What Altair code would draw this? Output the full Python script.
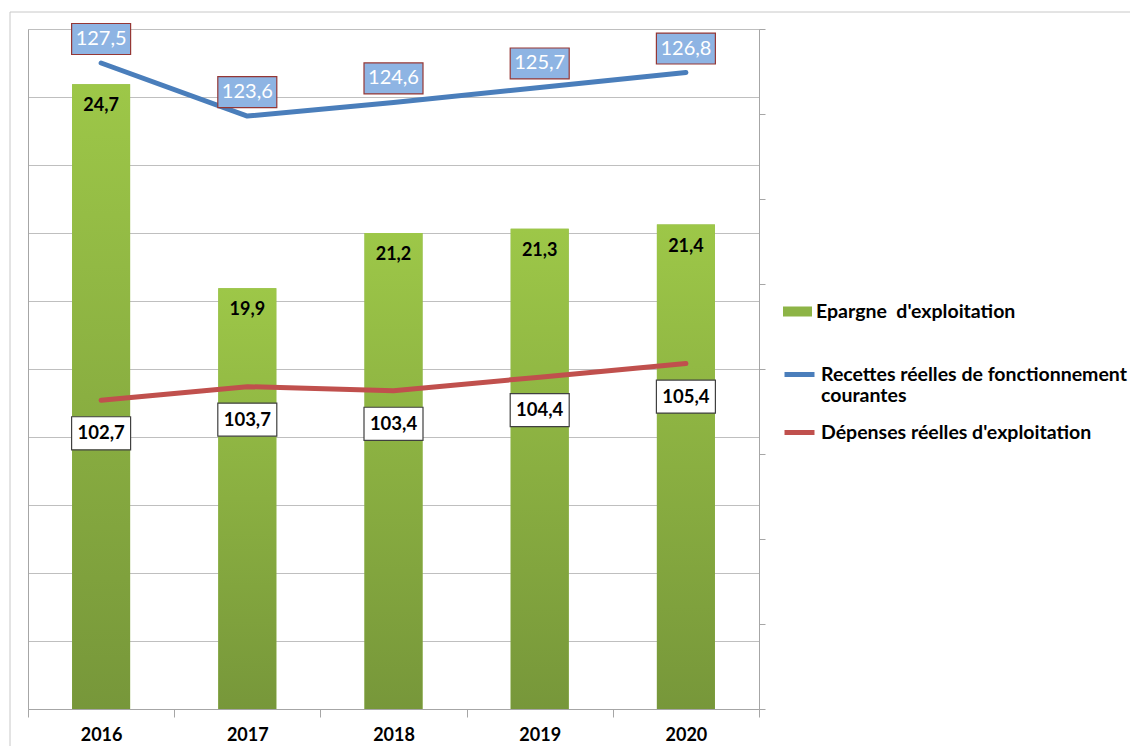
import altair as alt
import pandas as pd

# ---- data ----
years = ["2016", "2017", "2018", "2019", "2020"]
epargne = [24.7, 19.9, 21.2, 21.3, 21.4]
recettes = [127.5, 123.6, 124.6, 125.7, 126.8]
depenses = [102.7, 103.7, 103.4, 104.4, 105.4]

s_ep = "Epargne\u00a0 d'exploitation"
s_rec = "Recettes réelles de fonctionnement courantes"
s_dep = "Dépenses réelles d'exploitation"

left_ticks = [10, 11.6, 13.2, 14.8, 16.4, 18, 19.6, 21.2, 22.8, 24.4, 26]
right_ticks = [80, 86.25, 92.5, 98.75, 105, 111.25, 117.5, 123.75, 130]

bars_df = pd.DataFrame({"year": years, "value": epargne, "series": s_ep})
lines_df = pd.DataFrame({
    "year": years + years,
    "value": recettes + depenses,
    "series": [s_rec] * len(years) + [s_dep] * len(years),
})

W, H = 731, 680
GRID = "#BFBFBF"
AX = "#A6A6A6"
FONT = "Lato"
LAB = "replace(format(datum.value, '.1f'), '.', ',')"

x_enc = alt.X(
    "year:N",
    scale=alt.Scale(paddingInner=0, paddingOuter=0),
    axis=alt.Axis(
        title=None, labelAngle=0, tickBand="extent", tickSize=8, tickColor=AX,
        domainColor=AX, labelFont=FONT, labelFontSize=18, labelFontWeight="bold",
        labelColor="black", labelPadding=9, grid=False,
    ),
)

yL = alt.Y(
    "value:Q",
    scale=alt.Scale(domain=[10, 26], nice=False, zero=False),
    axis=alt.Axis(
        title=None, labels=False, ticks=False, values=left_ticks, grid=True,
        gridColor=GRID, gridWidth=1, domain=True, domainColor=AX,
    ),
)

yR = alt.Y(
    "value:Q",
    scale=alt.Scale(domain=[80, 130], nice=False, zero=False),
    axis=alt.Axis(
        title=None, orient="right", labels=False, ticks=True, tickSize=6,
        tickColor=AX, values=right_ticks, grid=False, domain=True, domainColor=AX,
    ),
)

frame = alt.Chart(pd.DataFrame({"a": [0]})).mark_rect(
    fill="transparent", stroke="#C8C8C8", strokeWidth=1
).encode(
    x=alt.value(-18), x2=alt.value(W + 500), y=alt.value(-17), y2=alt.value(H + 200)
)

bar_solid = alt.Chart(bars_df).mark_bar(size=58).encode(
    x=x_enc, y=yL, y2=alt.datum(10),
    fill=alt.Fill(
        "series:N",
        scale=alt.Scale(domain=[s_ep], range=["#8DB446"]),
        legend=alt.Legend(
            title=None, orient="none", legendX=755, legendY=268,
            symbolType="M-1,-0.345H1V0.345H-1Z", symbolSize=841, symbolStrokeWidth=0,
            labelFont=FONT, labelFontSize=19.5, labelFontWeight="bold",
            labelColor="black", labelOffset=4, labelLimit=500, padding=0,
        ),
    ),
)

bar_grad = alt.Chart(bars_df).mark_bar(
    size=58,
    fill=alt.Gradient(
        gradient="linear",
        stops=[
            alt.GradientStop(color="#9DC748", offset=0),
            alt.GradientStop(color="#77973A", offset=1),
        ],
        x1=0, x2=0, y1=0, y2=1,
    ),
).encode(x=x_enc, y=yL, y2=alt.datum(10))

bar_text = alt.Chart(bars_df).transform_calculate(lab=LAB).mark_text(
    font=FONT, fontSize=18, fontWeight="bold", color="black", baseline="middle", dy=22
).encode(x=x_enc, y=yL, text="lab:N")

left = alt.layer(bar_solid, bar_grad, bar_text)

lines = alt.Chart(lines_df).mark_line(
    strokeWidth=5, strokeCap="round", strokeJoin="round"
).encode(
    x=x_enc, y=yR,
    stroke=alt.Stroke(
        "series:N",
        scale=alt.Scale(domain=[s_rec, s_dep], range=["#4A7EBB", "#C0504D"]),
        legend=alt.Legend(
            title=None, orient="none", legendX=754, legendY=328,
            symbolType="stroke", symbolSize=900, symbolStrokeWidth=5,
            labelFont=FONT, labelFontSize=19.5, labelFontWeight="bold",
            labelColor="black", labelOffset=4, labelLimit=500, padding=0,
            rowPadding=9,
            labelExpr="indexof(datum.label, 'Recettes') == 0 ? ['Recettes réelles de fonctionnement', 'courantes'] : datum.label",
        ),
    ),
)

blue_box = alt.Chart(lines_df).transform_filter(alt.datum.series == s_rec).mark_point(
    shape="M-1,-0.525H1V0.525H-1Z", size=59 * 59, filled=True, fill="#8EB4E3",
    stroke="#953735", strokeWidth=1.2, opacity=1, yOffset=-24,
).encode(x=x_enc, y=yR)

blue_text = alt.Chart(lines_df).transform_filter(alt.datum.series == s_rec).transform_calculate(
    lab=LAB
).mark_text(
    font=FONT, fontSize=20, color="white", baseline="middle", dy=-24
).encode(x=x_enc, y=yR, text="lab:N")

red_box = alt.Chart(lines_df).transform_filter(alt.datum.series == s_dep).mark_point(
    shape="M-1,-0.56H1V0.56H-1Z", size=59 * 59, filled=True, fill="white",
    stroke="#404040", strokeWidth=1.2, opacity=1, yOffset=33,
).encode(x=x_enc, y=yR)

red_text = alt.Chart(lines_df).transform_filter(alt.datum.series == s_dep).transform_calculate(
    lab=LAB
).mark_text(
    font=FONT, fontSize=18.5, fontWeight="bold", color="black", baseline="middle", dy=33
).encode(x=x_enc, y=yR, text="lab:N")

right = alt.layer(lines, blue_box, blue_text, red_box, red_text)

chart = alt.layer(frame, left, right).resolve_scale(
    y="independent"
).properties(
    width=W, height=H,
    autosize=alt.AutoSizeParams(type="none"),
    padding={"left": 20, "top": 21, "right": 371, "bottom": 37},
).configure_view(stroke=None).configure(background="white")

chart.save("out.html", embed_options={"renderer": "svg", "actions": False})
